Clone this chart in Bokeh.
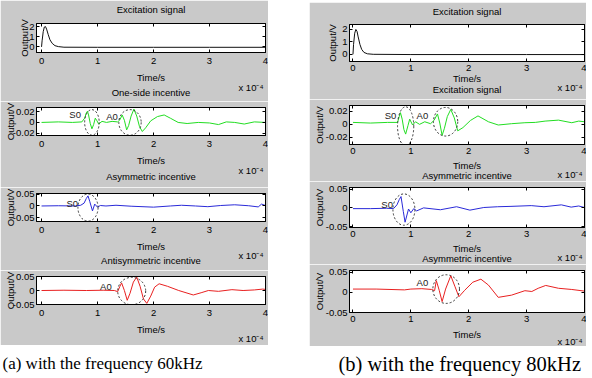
from bokeh.plotting import figure
from bokeh.models import Range1d, FixedTicker, LinearAxis, Label, Spacer, Title
from bokeh.layouts import column, row
from bokeh.embed import file_html
from bokeh.resources import INLINE
from bokeh.core.properties import value

FONT = "Liberation Sans"
SERIF = "Liberation Serif"
FS = "9.5px"
GRAY = "#c9c9c9"

# ---- time axis (units of 1e-4 s) ----
x_ticks = [0, 1, 2, 3, 4]
x_tick_labels = ["0", "1", "2", "3", "4"]
x_multiplier = "x 10\u207b\u2074"

# ---- (a) 60 kHz ----
exc_a_t = [0.0, 0.01, 0.03, 0.05, 0.07, 0.09, 0.12, 0.15, 0.19, 0.24, 0.30, 0.40, 1.0, 2.0, 3.0, 4.0]
exc_a_v = [0.0, 0.6, 1.5, 1.95, 2.0, 1.75, 1.2, 0.7, 0.35, 0.12, 0.03, -0.03, -0.04, -0.04, -0.04, -0.04]

one_a_t = [0.0, 0.3, 0.55, 0.72, 0.77, 0.80, 0.82, 0.84, 0.87, 0.90,
           0.93, 0.96, 0.99, 1.02, 1.08, 1.16, 1.26, 1.36, 1.40, 1.44,
           1.48, 1.52, 1.555, 1.60, 1.65, 1.70, 1.75, 1.80, 1.86, 1.95,
           2.07, 2.19, 2.30, 2.44, 2.60, 2.80, 3.00, 3.16, 3.30, 3.45,
           3.62, 3.80, 4.0]
one_a_v = [0.0, 0.001, 0.0, 0.001, 0.008, 0.018, 0.021, 0.014, -0.002, -0.012,
           -0.004, 0.008, 0.003, -0.003, 0.002, 0.0, 0.002, 0.001, 0.005, 0.014,
           0.004, -0.014, -0.006, 0.012, 0.025, 0.012, -0.008, -0.017, -0.010, 0.003,
           0.011, 0.014, 0.008, 0.0, -0.002, 0.0, -0.001, -0.004, 0.001, 0.0,
           -0.003, 0.001, 0.0]

asym_a_t = [0.0, 0.3, 0.6, 0.70, 0.76, 0.80, 0.83, 0.86, 0.91, 0.95,
            1.00, 1.05, 1.15, 1.33, 1.6, 2.0, 2.3, 2.5, 2.75, 2.97,
            3.2, 3.45, 3.7, 3.87, 3.93, 4.0]
asym_a_v = [0.0, 0.001, 0.0, 0.003, 0.012, 0.032, 0.043, 0.02, -0.021, 0.008,
            -0.005, 0.002, 0.0, 0.003, -0.001, -0.005, 0.0, 0.003, 0.0, -0.003,
            0.002, 0.005, 0.001, -0.004, 0.008, 0.002]

anti_a_t = [0.0, 0.4, 0.8, 1.1, 1.30, 1.36, 1.40, 1.43, 1.48, 1.53,
            1.58, 1.64, 1.70, 1.76, 1.82, 1.88, 1.95, 2.02, 2.10, 2.25,
            2.45, 2.71, 2.85, 2.98, 3.16, 3.4, 3.6, 3.8, 3.95, 4.0]
anti_a_v = [0.0, 0.001, 0.0, 0.001, 0.0, -0.004, 0.015, 0.027, 0.0, -0.035,
            -0.01, 0.03, 0.048, 0.015, -0.03, -0.046, -0.02, 0.012, 0.024, 0.015,
            0.0, -0.016, -0.008, 0.0, -0.003, 0.003, 0.0, 0.002, 0.005, 0.004]

# ---- (b) 80 kHz ----
exc_b_t = [0.0, 0.01, 0.03, 0.05, 0.07, 0.09, 0.12, 0.15, 0.19, 0.25, 0.35, 1.0, 2.0, 3.0, 4.0]
exc_b_v = [0.0, 0.8, 1.7, 2.0, 1.85, 1.4, 0.8, 0.4, 0.15, 0.04, 0.0, -0.02, -0.02, -0.02, -0.02]

one_b_t = [0.0, 0.3, 0.6, 0.77, 0.80, 0.82, 0.85, 0.88, 0.91, 0.95,
           0.98, 1.03, 1.08, 1.15, 1.24, 1.34, 1.40, 1.46, 1.50, 1.54,
           1.58, 1.63, 1.69, 1.75, 1.81, 1.90, 2.03, 2.16, 2.34, 2.51,
           2.74, 2.97, 3.15, 3.32, 3.55, 3.78, 3.9, 4.0]
one_b_v = [0.003, 0.002, 0.003, 0.003, 0.012, 0.018, 0.008, -0.008, -0.015, -0.002,
           0.008, -0.001, 0.004, 0.0, 0.004, 0.001, 0.006, 0.016, 0.002, -0.017,
           -0.006, 0.012, 0.023, 0.010, -0.010, -0.005, 0.006, 0.013, 0.004, -0.001,
           0.001, 0.0025, 0.003, 0.005, 0.0065, 0.0025, 0.005, 0.004]

asym_b_t = [0.0, 0.3, 0.58, 0.70, 0.76, 0.80, 0.83, 0.87, 0.90, 0.96,
            1.00, 1.05, 1.10, 1.22, 1.51, 1.79, 2.02, 2.26, 2.50, 2.73,
            3.08, 3.30, 3.60, 3.77, 3.90, 4.0]
asym_b_v = [-0.002, -0.002, -0.001, -0.002, 0.008, 0.022, 0.030, -0.010, -0.038, -0.003,
            -0.013, -0.002, -0.008, 0.0, -0.005, 0.003, -0.006, 0.001, 0.003, 0.004,
            0.006, 0.003, 0.008, 0.002, 0.005, 0.001]

anti_b_t = [0.0, 0.4, 0.89, 1.0, 1.19, 1.36, 1.41, 1.44, 1.49, 1.54,
            1.60, 1.69, 1.76, 1.83, 1.93, 2.07, 2.21, 2.34, 2.51, 2.74,
            2.97, 3.09, 3.20, 3.33, 3.55, 3.78, 4.0]
anti_b_v = [0.008, 0.008, 0.006, 0.008, 0.009, 0.007, 0.004, 0.029, 0.005, -0.023,
            0.008, 0.041, 0.015, -0.011, 0.005, 0.025, 0.0325, 0.018, -0.0125, -0.007,
            0.004, 0.002, 0.010, 0.017, 0.010, 0.007, 0.003]

# ---- y ticks ----
exc_ticks, exc_labels = [0, 1, 2], ["0", "1", "2"]
small_ticks, small_labels = [-0.02, 0, 0.02], ["-0.02", "0", "0.02"]
mid_ticks, mid_labels = [-0.05, 0, 0.05], ["-0.05", "0", "0.05"]

# ---- wave-packet rings: centre t, centre v, width t, height v ----
rings_one_a = dict(x=[0.90, 1.58], y=[0.0, 0.0], w=[0.26, 0.40], h=[0.048, 0.048])
rings_asym_a = dict(x=[0.83], y=[-0.007], w=[0.36], h=[0.115])
rings_anti_a = dict(x=[1.61], y=[-0.002], w=[0.50], h=[0.098])
rings_one_b = dict(x=[0.91, 1.60], y=[-0.003, 0.004], w=[0.28, 0.42], h=[0.06, 0.044])
rings_asym_b = dict(x=[0.88], y=[-0.0045], w=[0.38], h=[0.083])
rings_anti_b = dict(x=[1.61], y=[0.008], w=[0.46], h=[0.071])

tags_one_a = dict(x=[0.60, 1.26], y=[0.014, 0.012], t=["S0", "A0"])
tags_asym_a = dict(x=[0.55], y=[0.010], t=["S0"])
tags_anti_a = dict(x=[1.15], y=[0.015], t=["A0"])
tags_one_b = dict(x=[0.65, 1.20], y=[0.013, 0.013], t=["S0", "A0"])
tags_asym_b = dict(x=[0.59], y=[0.009], t=["S0"])
tags_anti_b = dict(x=[1.20], y=[0.024], t=["A0"])


def mirror_axis(ticks):
    # box-style axis on the opposite side: inward ticks, no numbers
    ax = LinearAxis(ticker=FixedTicker(ticks=ticks))
    ax.major_label_text_color = None
    ax.major_label_text_font_size = "1px"
    ax.major_label_standoff = 0
    ax.major_tick_in = 3
    ax.major_tick_out = 0
    ax.minor_tick_line_color = None
    ax.axis_line_color = "black"
    ax.major_tick_line_color = "black"
    return ax


def style_text(ax):
    ax.major_label_text_font = FONT
    ax.major_label_text_font_size = FS
    ax.major_label_text_color = "black"
    ax.axis_label_text_font = FONT
    ax.axis_label_text_font_size = FS
    ax.axis_label_text_font_style = "normal"
    ax.axis_label_text_color = "black"


def caption(text, align, offset, standoff):
    return Title(text=text, align=align, offset=offset, vertical_align="top",
                 text_font=FONT, text_font_size=FS, text_font_style="normal",
                 text_color="black", standoff=standoff)


def panel(title, next_title, t, v, color, xr, yr, yt, yl, w, h, bt, bb,
          title_sd, x_sd, xlab_sd, ylab_sd, mult_sd, next_sd, bl, br,
          rings=None, tags=None):
    p = figure(width=w, height=h, x_range=Range1d(*xr), y_range=Range1d(*yr),
               output_backend="svg", toolbar_location=None,
               min_border_left=bl, min_border_right=br,
               min_border_top=bt, min_border_bottom=bb,
               border_fill_color=GRAY, background_fill_color="white",
               outline_line_color="black", outline_line_width=1)
    p.xgrid.visible = False
    p.ygrid.visible = False

    xa = p.xaxis[0]
    xa.ticker = FixedTicker(ticks=x_ticks)
    xa.major_label_overrides = {k: s for k, s in zip(x_ticks, x_tick_labels)}
    xa.axis_label = "Time/s"
    xa.axis_label_standoff = xlab_sd
    xa.major_label_standoff = x_sd
    ya = p.yaxis[0]
    ya.ticker = FixedTicker(ticks=yt)
    ya.major_label_overrides = {k: s for k, s in zip(yt, yl)}
    ya.axis_label = "Output/V"
    ya.axis_label_standoff = ylab_sd
    ya.major_label_standoff = 2
    for ax in (xa, ya):
        ax.major_tick_in = 3
        ax.major_tick_out = 0
        ax.minor_tick_line_color = None
        ax.axis_line_color = "black"
        ax.major_tick_line_color = "black"
        style_text(ax)

    top = mirror_axis(x_ticks)
    if title:
        top.axis_label = title
        top.axis_label_standoff = title_sd
        style_text(top)
        top.major_label_text_color = None
        top.major_label_text_font_size = "1px"
    p.add_layout(top, "above")
    p.add_layout(mirror_axis(yt), "right")

    # under the time axis: the power-of-ten multiplier, then the heading of
    # the panel that follows
    p.add_layout(caption(x_multiplier, "right", 2, mult_sd), "below")
    if next_title:
        p.add_layout(caption(next_title, "center", 0, next_sd), "below")

    p.line(t, v, line_color=color, line_width=1)

    if rings:
        p.ellipse(x=rings["x"], y=rings["y"], width=rings["w"], height=rings["h"],
                  fill_color=None, line_color="#333333", line_width=1, line_dash="2 2")
    if tags:
        p.text(x=tags["x"], y=tags["y"], text=tags["t"], text_font=value(FONT),
               text_font_size=FS, text_align="center", text_baseline="middle",
               text_color="#222222")
    return p


XA = (-0.09, 4.0)
XB = (-0.06, 4.0)
WA, WB = 268, 277

a1 = panel("Excitation signal", "One-side incentive", exc_a_t, exc_a_v, "#111111", XA,
           (-0.55, 2.3), exc_ticks, exc_labels, WA, 101, 22, 49, 9, 5, 5, -4, -8, -7, 36, 3)
a2 = panel(None, "Asymmetric incentive", one_a_t, one_a_v, "#22dd22", XA,
           (-0.0245, 0.028), small_ticks, small_labels, WA, 86, 6, 52, 0, 5, 5, -6, -8, -5, 36, 3,
           rings_one_a, tags_one_a)
a3 = panel(None, "Antisymmetric incentive", asym_a_t, asym_a_v, "#2a2ad8", XA,
           (-0.066, 0.053), mid_ticks, mid_labels, WA, 83, 6, 49, 0, 5, 5, -6, -10, -5, 36, 3,
           rings_asym_a, tags_asym_a)
a4 = panel(None, None, anti_a_t, anti_a_v, "#e82020", XA,
           (-0.05, 0.05), mid_ticks, mid_labels, WA, 75, 6, 41, 0, 5, 5, -6, -9, 0, 36, 3,
           rings_anti_a, tags_anti_a)

b1 = panel("Excitation signal", "Excitation signal", exc_b_t, exc_b_v, "#111111", XB,
           (-0.58, 2.4), exc_ticks, exc_labels, WB, 97, 21, 38, 8, 3, -1, 1, -10, -11, 40, 2)
b2 = panel(None, "Asymmetric incentive", one_b_t, one_b_v, "#22dd22", XB,
           (-0.031, 0.029), small_ticks, small_labels, WB, 82, 6, 37, 0, 3, 3, -2, -10, -13, 40, 2,
           rings_one_b, tags_one_b)
b3 = panel(None, "Asymmetric incentive", asym_b_t, asym_b_v, "#2a2ad8", XB,
           (-0.052, 0.054), mid_ticks, mid_labels, WB, 83, 6, 37, 0, 3, 3, -2, -10, -13, 40, 2,
           rings_asym_b, tags_asym_b)
b4 = panel(None, None, anti_b_t, anti_b_v, "#e82020", XB,
           (-0.05, 0.054), mid_ticks, mid_labels, WB, 82, 6, 34, 0, 3, 4, -2, -13, 0, 40, 2,
           rings_anti_b, tags_anti_b)

left_col = column(a1, a2, a3, a4, Spacer(width=WA, height=1))
right_col = column(Spacer(width=WB, height=2), b1, b2, b3, b4)

cap = figure(width=592, height=32, x_range=Range1d(0, 592), y_range=Range1d(0, 32),
             output_backend="svg", toolbar_location=None, x_axis_type=None, y_axis_type=None,
             min_border=0, outline_line_color=None, border_fill_color="white")
cap.grid.visible = False
cap.add_layout(Label(x=2, y=15, text="(a)  with the  frequency 60kHz", text_font=SERIF,
                     text_font_size="17px", text_baseline="middle", text_color="black"))
cap.add_layout(Label(x=338, y=15, text="(b)  with the  frequency 80kHz", text_font=SERIF,
                     text_font_size="20.5px", text_baseline="middle", text_color="black"))

layout = column(row(left_col, Spacer(width=41, height=346), right_col), cap)

open("out.html", "w").write(file_html(layout, INLINE))
